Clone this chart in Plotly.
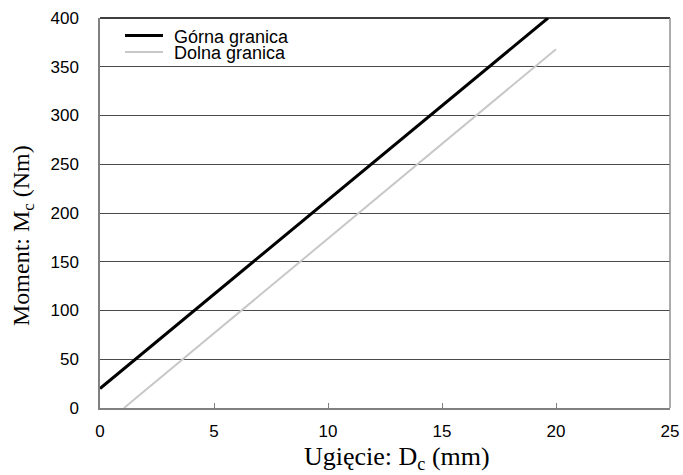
import plotly.graph_objects as go

upper_x = [0.0, 19.65]
upper_y = [20, 400]
lower_x = [1.05, 20.0]
lower_y = [0, 368]
x_ticks = [0, 5, 10, 15, 20, 25]
y_ticks = [0, 50, 100, 150, 200, 250, 300, 350, 400]
names = ["Górna granica", "Dolna granica"]
colors = ["black", "#c8c8c8"]
widths = [3, 2]
x_title = "Ugięcie: D<sub>c</sub> (mm)"
y_title = "Moment: M<sub>c</sub> (Nm)"

# body margin removed by post_script; plot area at x 100-670, y 18-408
OFF = 0
W, H = 683, 475
L, T = 100 - OFF, 18 - OFF
R = W - (670 - OFF)
B = H - (408 - OFF)

fig = go.Figure()
fig.add_trace(go.Scatter(x=upper_x, y=upper_y, mode="lines", name=names[0],
                         line=dict(color=colors[0], width=widths[0])))
fig.add_trace(go.Scatter(x=lower_x, y=lower_y, mode="lines", name=names[1],
                         line=dict(color=colors[1], width=widths[1])))

fig.update_layout(
    width=W, height=H,
    margin=dict(l=L, r=R, t=T, b=B, autoexpand=False),
    paper_bgcolor="white", plot_bgcolor="white",
    font=dict(family="Liberation Sans, Arial", size=17, color="black"),
    showlegend=False,
    xaxis=dict(range=[0, 25], tickvals=x_ticks, showgrid=False, zeroline=False,
               automargin=False,
               showline=True, linecolor="#808080", linewidth=1.5, mirror=False,
               ticks="inside", ticklen=5, tickcolor="#808080", ticklabelstandoff=7),
    yaxis=dict(range=[0, 400], tickvals=y_ticks, showgrid=True, gridcolor="#4a4a4a",
               gridwidth=1, zeroline=False, showline=True, linecolor="#808080",
               automargin=False,
               linewidth=1.5, ticks="", ticklabelstandoff=16),
)
# top and right frame
fig.add_shape(type="line", xref="paper", yref="paper", x0=0, x1=1, y0=1, y1=1,
              line=dict(color="black", width=1.5), layer="above")
fig.add_shape(type="line", xref="paper", yref="paper", x0=1, x1=1, y0=0, y1=1,
              line=dict(color="#909090", width=1.5), layer="above")

pw, ph = W - L - R, H - T - B
def px(xp):
    return (xp - OFF - L) / pw
def py(yp):
    return 1 - (yp - OFF - T) / ph

# axis titles (serif), positioned as in the reference
fig.add_annotation(xref="paper", yref="paper", x=px(397), y=py(458), text=x_title,
                   showarrow=False, xanchor="center", yanchor="middle",
                   font=dict(family="Liberation Serif, Times New Roman", size=26))
fig.add_annotation(xref="paper", yref="paper", x=px(23), y=py(236), text=y_title,
                   showarrow=False, xanchor="center", yanchor="middle", textangle=-90,
                   font=dict(family="Liberation Serif, Times New Roman", size=24))

# manual legend
fig.add_shape(type="rect", xref="paper", yref="paper", x0=px(102), x1=px(330),
              y0=py(61), y1=py(20), fillcolor="white", line=dict(width=0), layer="above")
for i, (nm, c, w) in enumerate(zip(names, colors, widths)):
    yy = 35.5 + 16.5 * i
    fig.add_shape(type="line", xref="paper", yref="paper", x0=px(125), x1=px(163),
                  y0=py(yy), y1=py(yy), line=dict(color=c, width=w), layer="above")
    fig.add_annotation(xref="paper", yref="paper", x=px(172), y=py(yy + 1), text=nm,
                       showarrow=False, xanchor="left", yanchor="middle",
                       font=dict(size=18, family="Liberation Sans, Arial"))

fig.write_html("out.html", config={"displayModeBar": False},
               post_script="document.body.style.margin='0';document.body.style.overflow='hidden';")
